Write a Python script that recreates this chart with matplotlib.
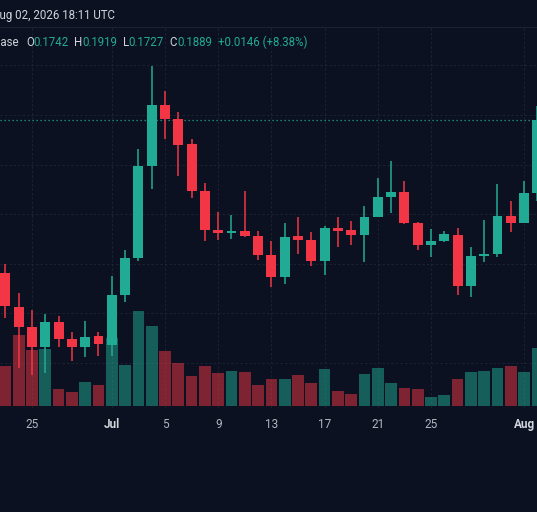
import numpy as np
import pandas as pd
import matplotlib
matplotlib.use('Agg')
import matplotlib.pyplot as plt
import matplotlib.dates as mdates

# daily candles, Jun 23 - Aug 2 2026
dates = pd.date_range('2026-06-23', '2026-08-02', freq='D')
opens = [0.1582, 0.1512, 0.1473, 0.1432, 0.1483, 0.1448, 0.1432, 0.1455,
         0.1436, 0.1537, 0.1612, 0.1797, 0.1920, 0.1892, 0.1841, 0.1747,
         0.1668, 0.1663, 0.1667, 0.1657, 0.1618, 0.1573, 0.1656, 0.1649,
         0.1606, 0.1673, 0.1668, 0.1658, 0.1694, 0.1734, 0.1744, 0.1682,
         0.1638, 0.1647, 0.1658, 0.1555, 0.1616, 0.1620, 0.1697, 0.1682,
         0.1742]
highs = [0.1600, 0.1542, 0.1507, 0.1498, 0.1495, 0.1463, 0.1485, 0.1463,
         0.1576, 0.1628, 0.1831, 0.1999, 0.1949, 0.1907, 0.1851, 0.1762,
         0.1704, 0.1698, 0.1747, 0.1666, 0.1646, 0.1682, 0.1695, 0.1665,
         0.1676, 0.1694, 0.1687, 0.1717, 0.1774, 0.1807, 0.1767, 0.1685,
         0.1670, 0.1666, 0.1672, 0.1633, 0.1688, 0.1761, 0.1727, 0.1767,
         0.1919]
lows = [0.1490, 0.1389, 0.1376, 0.1379, 0.1433, 0.1404, 0.1413, 0.1414,
        0.1414, 0.1524, 0.1606, 0.1750, 0.1851, 0.1778, 0.1733, 0.1647,
        0.1648, 0.1650, 0.1655, 0.1608, 0.1553, 0.1559, 0.1620, 0.1596,
        0.1578, 0.1633, 0.1638, 0.1604, 0.1694, 0.1703, 0.1680, 0.1627,
        0.1614, 0.1643, 0.1537, 0.1534, 0.1604, 0.1613, 0.1664, 0.1682,
        0.1727]
closes = [0.1514, 0.1473, 0.1432, 0.1483, 0.1448, 0.1432, 0.1452, 0.1438,
          0.1537, 0.1612, 0.1797, 0.1920, 0.1892, 0.1840, 0.1747, 0.1668,
          0.1663, 0.1667, 0.1657, 0.1618, 0.1573, 0.1654, 0.1649, 0.1606,
          0.1673, 0.1666, 0.1658, 0.1694, 0.1734, 0.1744, 0.1682, 0.1638,
          0.1647, 0.1660, 0.1555, 0.1616, 0.1620, 0.1697, 0.1682, 0.1743,
          0.1889]
volumes = [3.97, 7.07, 5.57, 5.67, 1.64, 1.34, 2.34, 2.07, 6.80, 4.07,
           9.47, 8.00, 5.47, 4.30, 2.97, 4.00, 3.24, 3.50, 3.37, 2.10,
           2.64, 2.67, 3.10, 2.30, 3.67, 1.50, 1.14, 3.20, 3.74, 2.30,
           1.74, 1.70, 0.90, 1.10, 2.70, 3.37, 3.50, 3.77, 3.94, 3.40,
           5.74]  # millions

tick_dates = ['2026-06-25', '2026-07-01', '2026-07-05', '2026-07-09',
              '2026-07-13', '2026-07-17', '2026-07-21', '2026-07-25',
              '2026-08-01']
tick_labels = ['25', 'Jul', '5', '9', '13', '17', '21', '25', 'Aug']
price_grid = [0.14, 0.15, 0.16, 0.17, 0.18, 0.19, 0.20]

BG = '#0b1120'
UP = '#22ab94'
DOWN = '#f23645'
GRID = '#1b2332'
TXT = '#d1d4dc'

W, H = 537, 512
fig = plt.figure(figsize=(W / 100, H / 100), dpi=100, facecolor=BG)
ax = fig.add_axes([0, 104 / H, 1, 381 / H])
ax.set_facecolor(BG)
vax = ax.twinx()

x = mdates.date2num(dates)
o, hi, lo, c = (np.array(a) for a in (opens, highs, lows, closes))
colors = np.where(c >= o, UP, DOWN)

# candles
ax.vlines(x, lo, hi, colors=colors, lw=1.1, zorder=3)
ax.bar(x, np.maximum(np.abs(c - o), 0.0003), bottom=np.minimum(o, c),
       width=0.75, color=colors, zorder=3)
ax.axhline(c[-1], color=UP, lw=0.9, ls=(0, (1, 2.2)), zorder=2)

# volume (drawn over candles, half transparent)
vax.bar(x, volumes, width=0.88, color=colors, alpha=0.5, zorder=3)
vax.set_ylim(-0.23, 37.85)
vax.set_yticks([])

ax.set_xlim(x[0] - 0.406, x[0] + 39.97)
ax.set_ylim(0.13093, 0.20775)
ax.set_xticks(mdates.date2num(pd.to_datetime(tick_dates)))
ax.set_xticklabels(tick_labels)
ax.set_yticks(price_grid)
ax.set_yticklabels([])
ax.grid(True, color=GRID, lw=0.8, ls=(0, (2, 2)), zorder=0)
ax.tick_params(axis='x', length=0, pad=7, colors='#b2b5be', labelsize=8.5)
ax.tick_params(axis='y', length=0)
for lab in ax.get_xticklabels():
    lab.set_fontfamily('Roboto')
    if lab.get_text().isalpha():
        lab.set_fontweight('bold')
        lab.set_color(TXT)

for a in (ax, vax):
    for s in a.spines.values():
        s.set_visible(False)
ax.spines['top'].set_visible(True)
ax.spines['top'].set_color(GRID)
ax.spines['top'].set_linewidth(0.8)

# header
def px_text(px, py, s, color, **kw):
    fig.text(px / W, 1 - py / H, s, color=color, va='center',
             fontfamily='Roboto', fontsize=8.3, **kw)

px_text(-8.5, 15, dates[-1].strftime('%b %d, %Y') + ' 18:11 UTC', TXT)
px_text(18.5, 42, 'Coinbase', TXT, ha='right')
change = c[-1] - c[-2]
parts = [('O', o[-1], 26, 33.5), ('H', hi[-1], 74, 82), ('L', lo[-1], 122.5, 128.5),
         ('C', c[-1], 169, 177)]
for key, val, kx, vx in parts:
    px_text(kx, 42, key, TXT)
    px_text(vx, 42, f'{val:.4f}', UP)
px_text(218, 42, f'{change:+.4f} ({change / c[-2] * 100:+.2f}%)', UP)

fig.savefig('out.png', dpi=100, facecolor=BG)
